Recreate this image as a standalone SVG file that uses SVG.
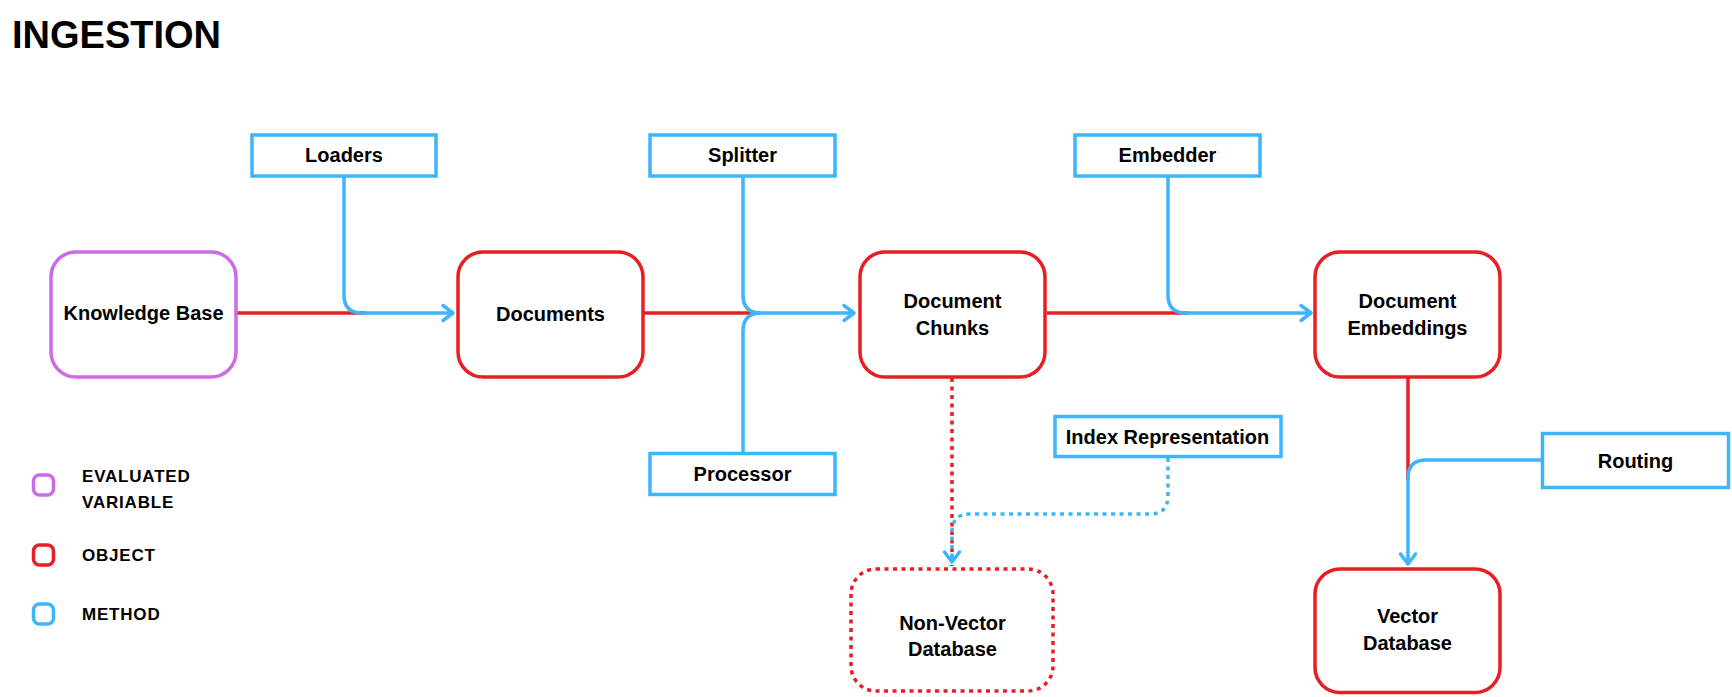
<svg xmlns="http://www.w3.org/2000/svg" width="1732" height="697" viewBox="0 0 1732 697">
<defs>
<style>
.t{font-family:"Liberation Sans",Arial,sans-serif;font-weight:700;fill:#000;}
.lbl{font-size:20px;text-anchor:middle;}
.title{font-size:38px;}
.leg{font-size:17px;letter-spacing:0.8px;}
.obj{fill:#fff;stroke:#E81E25;stroke-width:3.5;}
.var{fill:#fff;stroke:#CB6CE6;stroke-width:3.5;}
.meth{fill:#fff;stroke:#3DB5FA;stroke-width:3.5;}
.dot{stroke-dasharray:4 4.5;}
.red{fill:none;stroke:#E81E25;stroke-width:3.5;}
.blue{fill:none;stroke:#3DB5FA;stroke-width:3.5;}
</style>
<marker id="arr" markerUnits="userSpaceOnUse" viewBox="-14 -11 18 22" markerWidth="18" markerHeight="22" refX="0" refY="0" orient="auto" overflow="visible">
<path d="M-10,-7.5 L0,0 L-10,7.5" fill="none" stroke="#3DB5FA" stroke-width="3.5" stroke-linecap="round" stroke-linejoin="round"/>
</marker>
</defs>
<rect width="1732" height="697" fill="#fff"/>
<text class="t title" x="12" y="48">INGESTION</text>

<g id="connectors">
<path class="red" d="M237,313 H366"/>
<path class="blue" d="M344,177 V295 Q344,313 362,313 H453" marker-end="url(#arr)"/>
<path class="red" d="M644,313 H758"/>
<path class="blue" d="M743,177 V295 Q743,313 761,313 H854" marker-end="url(#arr)"/>
<path class="blue" d="M743,452 V331 Q743,313 761,313"/>
<path class="red" d="M1047,313 H1188"/>
<path class="blue" d="M1168,177 V295 Q1168,313 1186,313 H1311" marker-end="url(#arr)"/>
<path class="red" d="M1408,378 V480"/>
<path class="blue" d="M1541,460 H1426 Q1408,460 1408,478 V564" marker-end="url(#arr)"/>
<path class="red dot" d="M952,378 V566"/>
<path class="blue dot" d="M1168,458 V496 Q1168,514 1150,514 H970 Q952,514 952,532 V561"/>
<path class="blue" d="M952,556 V562" marker-end="url(#arr)"/>
</g>

<g id="knowledge-base">
<rect class="var" x="51" y="252" width="185" height="125" rx="25"/>
<text class="t lbl" x="143.5" y="320">Knowledge Base</text>
</g>
<g id="documents">
<rect class="obj" x="458" y="252" width="185" height="125" rx="25"/>
<text class="t lbl" x="550.5" y="321">Documents</text>
</g>
<g id="document-chunks">
<rect class="obj" x="860" y="252" width="185" height="125" rx="25"/>
<text class="t lbl" x="952.5" y="308">Document</text>
<text class="t lbl" x="952.5" y="335">Chunks</text>
</g>
<g id="document-embeddings">
<rect class="obj" x="1315" y="252" width="185" height="125" rx="25"/>
<text class="t lbl" x="1407.5" y="308">Document</text>
<text class="t lbl" x="1407.5" y="335">Embeddings</text>
</g>
<g id="vector-database">
<rect class="obj" x="1315" y="569" width="185" height="123.5" rx="25"/>
<text class="t lbl" x="1407.5" y="623">Vector</text>
<text class="t lbl" x="1407.5" y="650">Database</text>
</g>
<g id="non-vector-database">
<rect class="obj dot" x="851" y="569" width="202" height="122" rx="25"/>
<text class="t lbl" x="952.5" y="630">Non-Vector</text>
<text class="t lbl" x="952.5" y="656">Database</text>
</g>

<g id="loaders">
<rect class="meth" x="252" y="135" width="184" height="41"/>
<text class="t lbl" x="344" y="162">Loaders</text>
</g>
<g id="splitter">
<rect class="meth" x="650" y="135" width="185" height="41"/>
<text class="t lbl" x="742.5" y="162">Splitter</text>
</g>
<g id="processor">
<rect class="meth" x="650" y="453.5" width="185" height="41"/>
<text class="t lbl" x="742.5" y="481">Processor</text>
</g>
<g id="embedder">
<rect class="meth" x="1075" y="135" width="185" height="41"/>
<text class="t lbl" x="1167.5" y="162">Embedder</text>
</g>
<g id="index-representation">
<rect class="meth" x="1055" y="416.5" width="226" height="40"/>
<text class="t lbl" x="1167.5" y="443.5">Index Representation</text>
</g>
<g id="routing">
<rect class="meth" x="1542.5" y="433.5" width="186" height="54"/>
<text class="t lbl" x="1635.5" y="468">Routing</text>
</g>

<g id="legend">
<rect class="var" x="33.5" y="475" width="20" height="20" rx="6"/>
<text class="t leg" x="82" y="482">EVALUATED</text>
<text class="t leg" x="82" y="507.5">VARIABLE</text>
<rect class="obj" x="33.5" y="545" width="20" height="20" rx="6"/>
<text class="t leg" x="82" y="561">OBJECT</text>
<rect class="meth" x="33.5" y="604" width="20" height="20" rx="6"/>
<text class="t leg" x="82" y="620">METHOD</text>
</g>
</svg>
